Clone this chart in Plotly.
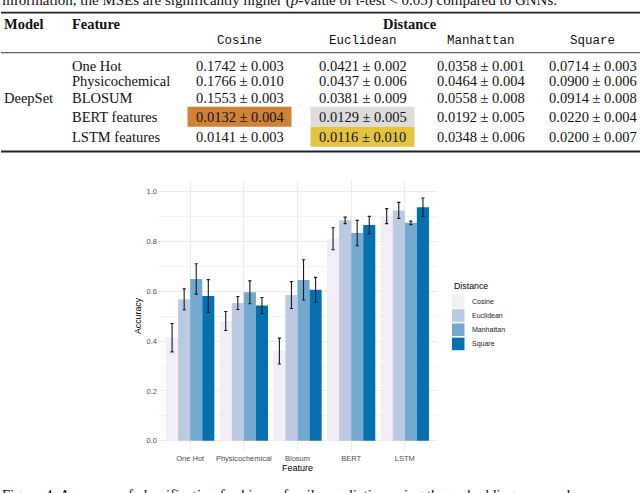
import plotly.graph_objects as go

# Accuracy per feature / distance (bar chart)
features = ["One Hot", "Physicochemical", "Blosum", "BERT", "LSTM"]
distances = ["Cosine", "Euclidean", "Manhattan", "Square"]
colors = ["#f1eef6", "#bdc9e1", "#74a9cf", "#0570b0"]

cosine_acc = [0.414, 0.481, 0.360, 0.811, 0.902]
cosine_sd = [0.057, 0.038, 0.052, 0.044, 0.030]
euclidean_acc = [0.568, 0.553, 0.585, 0.885, 0.925]
euclidean_sd = [0.042, 0.026, 0.054, 0.013, 0.032]
manhattan_acc = [0.650, 0.596, 0.646, 0.834, 0.875]
manhattan_sd = [0.061, 0.046, 0.081, 0.051, 0.007]
square_acc = [0.581, 0.543, 0.606, 0.866, 0.938]
square_sd = [0.066, 0.032, 0.050, 0.035, 0.037]

# MSE table of the DeepSet model shown above the chart
table_model = "DeepSet"
table_features = ["One Hot", "Physicochemical", "BLOSUM", "BERT features", "LSTM features"]
mse_cosine = [0.1742, 0.1766, 0.1553, 0.0132, 0.0141]
mse_cosine_sd = [0.003, 0.010, 0.003, 0.004, 0.003]
mse_euclidean = [0.0421, 0.0437, 0.0381, 0.0129, 0.0116]
mse_euclidean_sd = [0.002, 0.006, 0.009, 0.005, 0.010]
mse_manhattan = [0.0358, 0.0464, 0.0558, 0.0192, 0.0348]
mse_manhattan_sd = [0.001, 0.004, 0.008, 0.005, 0.006]
mse_square = [0.0714, 0.0900, 0.0914, 0.0220, 0.0200]
mse_square_sd = [0.003, 0.006, 0.008, 0.004, 0.007]
# (row, column, colour) of the highlighted cells
highlights = [(3, 0, "#cf8233"), (3, 1, "#dcdcdc"), (4, 1, "#e3c340")]

text_above = "information, the MSEs are significantly higher (<i>p</i>-value of t-test &lt; 0.05) compared to GNNs."
text_below = "Figure 4: Accuracy of classification for kinase family prediction using the embedding approaches"

W, H = 640, 493
SERIF = "Liberation Serif"
MONO = "Liberation Mono"
SANS = "Liberation Sans"


def fx(p):
    return p / W


def fy(p):
    return 1 - p / H


fig = go.Figure()

acc = [cosine_acc, euclidean_acc, manhattan_acc, square_acc]
sds = [cosine_sd, euclidean_sd, manhattan_sd, square_sd]
for name, ys, sd, col in zip(distances, acc, sds, colors):
    fig.add_bar(x=features, y=ys, name=name, marker_color=col, marker_line_width=0,
                error_y=dict(type="data", array=sd, color="#1a1a1a", thickness=1.1, width=1.6),
                showlegend=False)

annotations = []
shapes = []

# ---- table ----
col_x = [239.5, 362.5, 481, 592.5]
row_y = [65.7, 81, 97.5, 116.7, 136.7]
means = [mse_cosine, mse_euclidean, mse_manhattan, mse_square]
errs = [mse_cosine_sd, mse_euclidean_sd, mse_manhattan_sd, mse_square_sd]

for r, c, col in highlights:
    shapes.append(dict(type="rect", xref="paper", yref="paper",
                       x0=fx(col_x[c] - 52), x1=fx(col_x[c] + 52),
                       y0=fy(row_y[r] - 10), y1=fy(row_y[r] + 10),
                       fillcolor=col, line_width=0, layer="below"))

for y, w in [(12.7, 1.8), (52.7, 0.9), (151.5, 1.8)]:
    shapes.append(dict(type="line", xref="paper", yref="paper", x0=fx(1), x1=1,
                       y0=fy(y), y1=fy(y), line=dict(color="#222222", width=w)))


def txt(x, y, s, size=14.5, family=SERIF, xanchor="left", color="#111111"):
    annotations.append(dict(x=fx(x), y=fy(y), xref="paper", yref="paper", text=s,
                            showarrow=False, xanchor=xanchor, yanchor="middle",
                            font=dict(family=family, size=size, color=color)))


txt(1.5, 24.3, "<b>Model</b>")
txt(70, 24.3, "<b>Feature</b>")
txt(410, 24.3, "<b>Distance</b>", xanchor="center")
for name, x in zip(distances, col_x):
    txt(x, 40.7, name, size=12.5, family=MONO, xanchor="center")
txt(1.5, 98, table_model)
for i, (f, y) in enumerate(zip(table_features, row_y)):
    txt(70, y, f)
    for j, x in enumerate(col_x):
        txt(x, y, f"{means[j][i]:.4f} ± {errs[j][i]:.3f}", xanchor="center")

# page text above and below, cut by the picture edge as in the source
txt(0, 1, text_above, size=15)
txt(0, 494.5, text_below, size=15)

# ---- legend (ggplot style) ----
txt(452, 285.5, "Distance", size=8.8, family=SANS, color="#000000")
for k, (name, col) in enumerate(zip(distances, colors)):
    yc = 301.3 + 14.2 * k
    shapes.append(dict(type="rect", xref="paper", yref="paper",
                       x0=fx(452), x1=fx(464.5), y0=fy(yc - 6.3), y1=fy(yc + 6.3),
                       fillcolor=col, line_width=0))
    txt(469.5, yc, name, size=7, family=SANS, color="#1a1a1a")

fig.update_layout(
    width=W, height=H,
    margin=dict(l=0, r=0, t=0, b=0),
    paper_bgcolor="white", plot_bgcolor="white",
    barmode="group", bargap=0.1, bargroupgap=0,
    annotations=annotations, shapes=shapes,
    font=dict(family=SANS),
    xaxis=dict(domain=[fx(158), fx(437)], type="category", range=[-0.6, 4.6],
               showgrid=True, gridcolor="#ebebeb", gridwidth=1, zeroline=False,
               ticks="", showline=False, automargin=False,
               tickfont=dict(size=7.5, color="#4d4d4d"),
               title=dict(text="Feature", font=dict(size=9, color="#000000"), standoff=3)),
    yaxis=dict(domain=[fy(452), fy(180)], range=[-0.045, 1.047], dtick=0.2,
               tickformat=".1f", showgrid=True, gridcolor="#ebebeb", gridwidth=1,
               zeroline=False, ticks="", showline=False, automargin=False,
               minor=dict(dtick=0.1, showgrid=True, gridcolor="#f3f3f3", gridwidth=0.6),
               tickfont=dict(size=7.5, color="#4d4d4d"),
               title=dict(text="Accuracy", font=dict(size=8.8, color="#000000"), standoff=3)),
)

# the page is shown in a window of exactly the figure size: drop the body margin
fig.write_html("out.html", config={"displayModeBar": False},
               post_script="document.body.style.margin = '0px';")
